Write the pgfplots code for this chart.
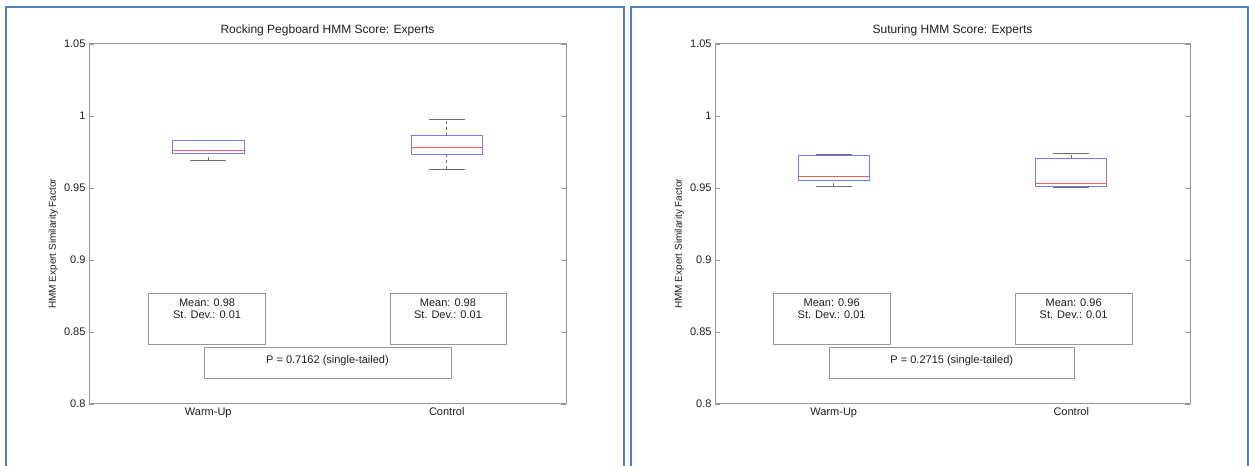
\documentclass[border=0pt]{standalone}
\usepackage{fontspec}
\setmainfont{Liberation Sans}
\usepackage{pgfplots}
\pgfplotsset{compat=1.18}
\usepgfplotslibrary{statistics}

\definecolor{frameblue}{RGB}{79,129,189}
\definecolor{boxblue}{RGB}{120,120,255}
\definecolor{medred}{RGB}{255,90,90}
\definecolor{axgray}{RGB}{150,150,150}
\definecolor{whgray}{RGB}{110,110,110}
\definecolor{txtgray}{RGB}{30,30,30}

\newcommand{\fs}{\fontsize{11bp}{12.3bp}\selectfont}

\pgfplotsset{
  boxplot/draw/lower whisker/.code={%
    \draw[whgray,dashed,line width=0.8bp] (boxplot cs:\pgfplotsboxplotvalue{lower whisker}) -- (boxplot cs:\pgfplotsboxplotvalue{lower quartile});
    \draw[whgray,line width=0.8bp] (boxplot whisker cs:\pgfplotsboxplotvalue{lower whisker},0) -- (boxplot whisker cs:\pgfplotsboxplotvalue{lower whisker},1);
  },
  boxplot/draw/upper whisker/.code={%
    \draw[whgray,dashed,line width=0.8bp] (boxplot cs:\pgfplotsboxplotvalue{upper quartile}) -- (boxplot cs:\pgfplotsboxplotvalue{upper whisker});
    \draw[whgray,line width=0.8bp] (boxplot whisker cs:\pgfplotsboxplotvalue{upper whisker},0) -- (boxplot whisker cs:\pgfplotsboxplotvalue{upper whisker},1);
  },
  myax/.style={
    scale only axis, width=477bp, height=360bp, anchor=south west,
    xmin=0.5, xmax=2.5, ymin=0.8, ymax=1.05,
    xtick={1,2}, xticklabels={Warm-Up,Control},
    ytick={0.8,0.85,0.9,0.95,1,1.05},
    yticklabels={0.8,0.85,0.9,0.95,1,1.05},
    /pgf/number format/assume math mode=true,
    tick align=inside, major tick length=5bp,
    xtick style={draw=none},
    ytick style={axgray, line width=0.8bp},
    axis line style={axgray, line width=1bp},
    tick label style={font=\fs, text=txtgray},
    title style={font=\fontsize{12bp}{14bp}\selectfont, text=txtgray, at={(0.5,1)}, anchor=center, yshift=8bp},
    ylabel style={font=\fontsize{10bp}{12bp}\selectfont, text=txtgray, at={(axis description cs:-0.075,0.445)}, anchor=center},
    ylabel={HMM Expert Similarity Factor},
    clip=false,
    boxplot/draw direction=y,
    boxplot/every box/.style={draw=boxblue, line width=0.8bp},
    boxplot/every median/.style={draw=medred, line width=0.8bp},
  },
}

\begin{document}
\begin{tikzpicture}
\useasboundingbox (0,0) rectangle (1249bp,466bp);
\draw[frameblue, line width=2bp] (6bp,-3bp) -- (6bp,459bp) -- (624bp,459bp) -- (624bp,-3bp);
\draw[frameblue, line width=2bp] (631bp,-3bp) -- (631bp,459bp) -- (1248bp,459bp) -- (1248bp,-3bp);

\begin{axis}[myax, at={(89bp,62bp)}, title={Rocking Pegboard HMM Score: Experts}]
\addplot[boxplot prepared={lower whisker=0.9692, lower quartile=0.9741, median=0.9759,
  upper quartile=0.9828, upper whisker=0.9828, draw position=1, box extend=0.3, whisker extend=0.15}]
  coordinates {};
\addplot[boxplot prepared={lower whisker=0.9630, lower quartile=0.9736, median=0.9782,
  upper quartile=0.9863, upper whisker=0.9974, draw position=2, box extend=0.3, whisker extend=0.15}]
  coordinates {};
\draw[axgray, line width=0.8bp] (axis cs:0.75,0.8766) rectangle (axis cs:1.24,0.8417);
\draw[axgray, line width=0.8bp] (axis cs:1.765,0.8766) rectangle (axis cs:2.25,0.8417);
\draw[axgray, line width=0.8bp] (axis cs:0.983,0.8391) rectangle (axis cs:2.02,0.8178);
\node[anchor=north, align=center, inner sep=0pt, font=\fs, text=txtgray, yshift=-5bp] at (axis cs:0.995,0.8766) {Mean: 0.98\\St. Dev.: 0.01};
\node[anchor=north, align=center, inner sep=0pt, font=\fs, text=txtgray, yshift=-5bp] at (axis cs:2.005,0.8766) {Mean: 0.98\\St. Dev.: 0.01};
\node[anchor=north, align=center, inner sep=0pt, font=\fs, text=txtgray, yshift=-8bp] at (axis cs:1.5,0.8391) {P = 0.7162 (single-tailed)};
\end{axis}

\begin{axis}[myax, width=475bp, at={(715bp,62bp)}, title={Suturing HMM Score: Experts}]
\addplot[boxplot prepared={lower whisker=0.9514, lower quartile=0.9553, median=0.9581,
  upper quartile=0.9724, upper whisker=0.9736, draw position=1, box extend=0.3, whisker extend=0.15}]
  coordinates {};
\addplot[boxplot prepared={lower whisker=0.9505, lower quartile=0.9512, median=0.9530,
  upper quartile=0.9706, upper whisker=0.9741, draw position=2, box extend=0.3, whisker extend=0.15}]
  coordinates {};
\draw[axgray, line width=0.8bp] (axis cs:0.745,0.8766) rectangle (axis cs:1.237,0.8417);
\draw[axgray, line width=0.8bp] (axis cs:1.763,0.8766) rectangle (axis cs:2.256,0.8417);
\draw[axgray, line width=0.8bp] (axis cs:0.98,0.8391) rectangle (axis cs:2.015,0.8178);
\node[anchor=north, align=center, inner sep=0pt, font=\fs, text=txtgray, yshift=-5bp] at (axis cs:0.991,0.8766) {Mean: 0.96\\St. Dev.: 0.01};
\node[anchor=north, align=center, inner sep=0pt, font=\fs, text=txtgray, yshift=-5bp] at (axis cs:2.01,0.8766) {Mean: 0.96\\St. Dev.: 0.01};
\node[anchor=north, align=center, inner sep=0pt, font=\fs, text=txtgray, yshift=-8bp] at (axis cs:1.497,0.8391) {P = 0.2715 (single-tailed)};
\end{axis}
\end{tikzpicture}
\end{document}
